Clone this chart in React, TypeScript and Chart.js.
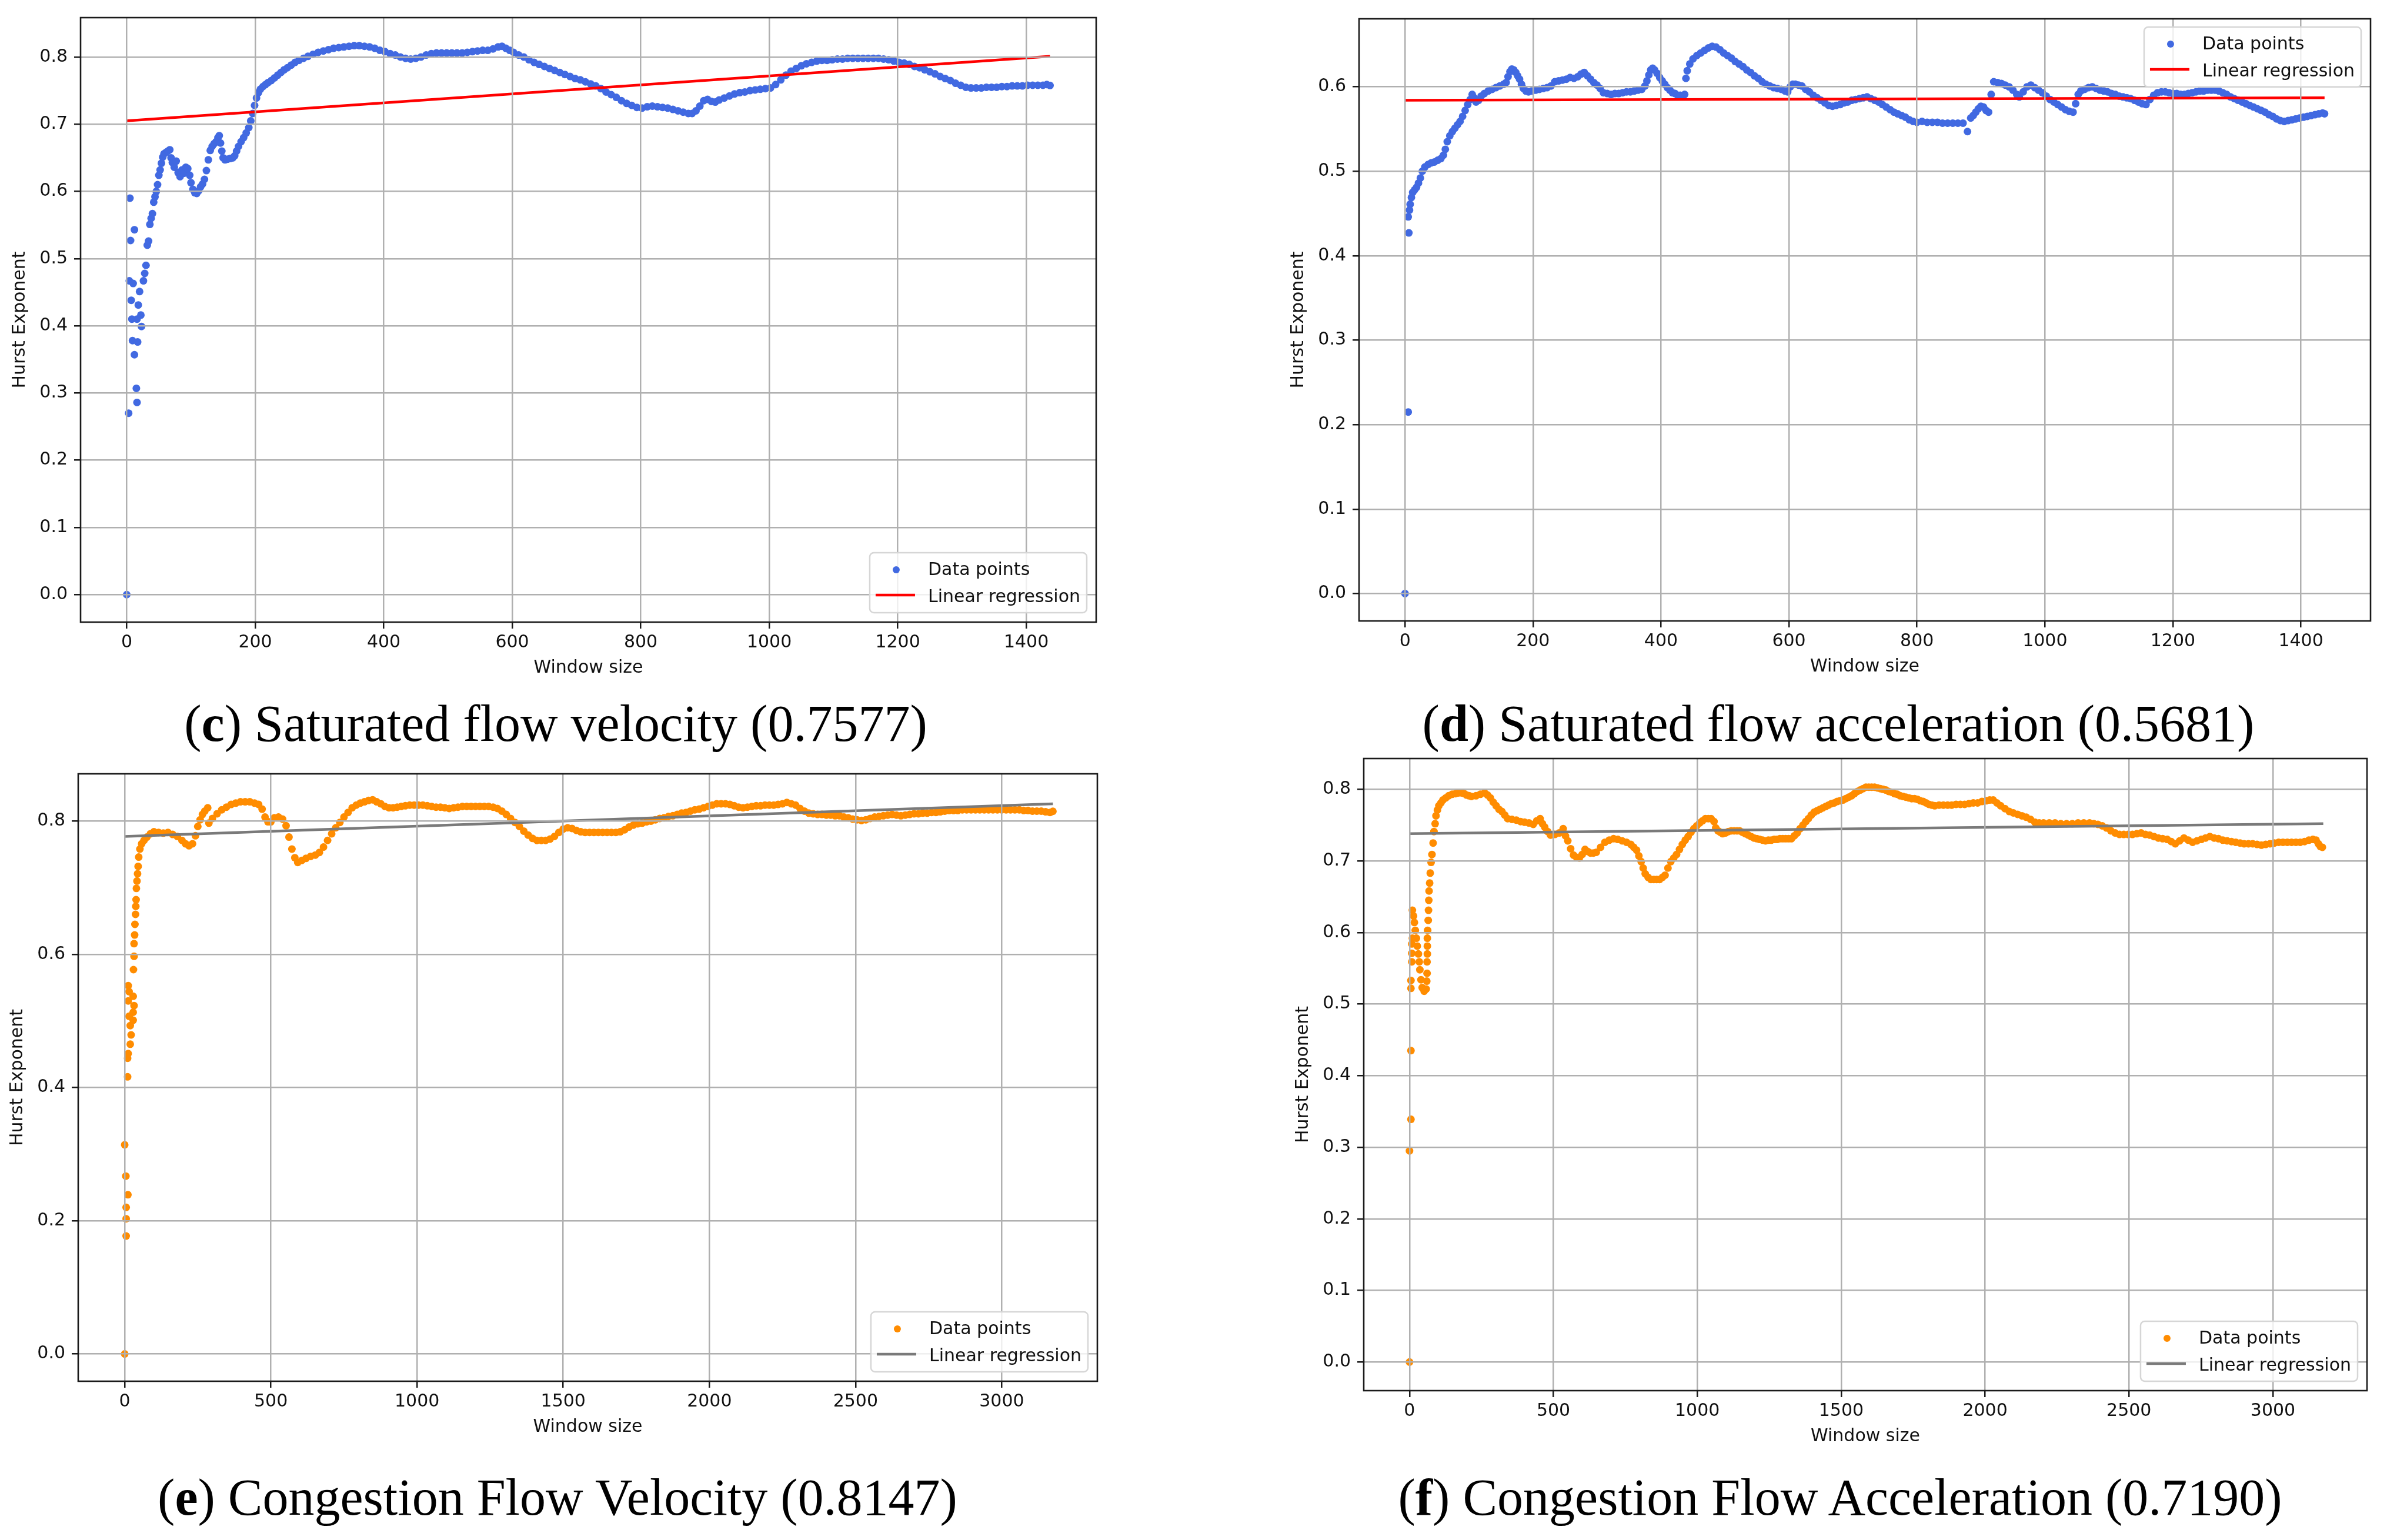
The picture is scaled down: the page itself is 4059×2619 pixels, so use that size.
import { useEffect, useRef } from "react";
import { Chart, registerables } from "chart.js";

Chart.register(...registerables);

type Pt = [number, number];

// (c) saturated flow velocity: [window size, Hurst exponent]
const satVelocity: Pt[] = [
  [0, 0.0], [3, 0.27], [4, 0.467], [5, 0.59], [6, 0.527], [7, 0.438], [8, 0.41], [9, 0.378], [10, 0.463],
  [12, 0.543], [12, 0.357], [15, 0.307], [16, 0.286], [16, 0.41], [17, 0.376], [18, 0.431], [20, 0.451],
  [22, 0.416], [23, 0.399], [26, 0.467], [28, 0.478], [30, 0.49], [32, 0.52], [34, 0.526], [36, 0.551],
  [38, 0.56], [40, 0.567], [42, 0.584], [44, 0.592], [46, 0.6], [48, 0.61], [50, 0.624], [52, 0.632],
  [54, 0.642], [56, 0.651], [58, 0.656], [61, 0.658], [64, 0.66], [67, 0.662], [69, 0.65], [71, 0.643],
  [74, 0.636], [77, 0.645], [80, 0.628], [83, 0.622], [86, 0.632], [89, 0.627], [92, 0.636], [95, 0.634],
  [98, 0.624], [100, 0.613], [103, 0.603], [106, 0.598], [109, 0.597], [112, 0.601], [115, 0.607],
  [118, 0.611], [121, 0.618], [124, 0.631], [127, 0.647], [130, 0.661], [133, 0.667], [136, 0.671],
  [139, 0.674], [142, 0.68], [144, 0.683], [146, 0.672], [148, 0.66], [150, 0.65], [153, 0.647],
  [157, 0.648], [161, 0.649], [165, 0.65], [168, 0.653], [171, 0.66], [174, 0.667], [178, 0.674],
  [182, 0.68], [186, 0.687], [190, 0.695], [193, 0.705], [196, 0.716], [199, 0.728], [202, 0.739],
  [205, 0.747], [208, 0.752], [212, 0.756], [216, 0.759], [220, 0.762], [225, 0.765], [230, 0.769],
  [235, 0.773], [240, 0.777], [245, 0.781], [250, 0.784], [256, 0.788], [262, 0.792], [268, 0.795],
  [275, 0.798], [282, 0.801], [290, 0.804], [298, 0.807], [306, 0.809], [314, 0.811], [322, 0.813],
  [330, 0.814], [338, 0.815], [346, 0.816], [354, 0.817], [362, 0.817], [370, 0.816], [378, 0.815],
  [386, 0.813], [394, 0.81], [402, 0.808], [410, 0.805], [418, 0.803], [426, 0.8], [434, 0.798],
  [442, 0.797], [450, 0.798], [458, 0.8], [466, 0.803], [474, 0.805], [482, 0.806], [490, 0.806],
  [498, 0.806], [506, 0.806], [514, 0.806], [522, 0.806], [530, 0.807], [538, 0.808], [546, 0.809],
  [554, 0.81], [562, 0.81], [570, 0.812], [578, 0.815], [584, 0.816], [590, 0.813], [596, 0.81],
  [602, 0.807], [610, 0.803], [618, 0.8], [626, 0.796], [634, 0.792], [642, 0.789], [650, 0.786],
  [658, 0.783], [666, 0.78], [674, 0.777], [682, 0.774], [690, 0.771], [698, 0.768], [706, 0.766],
  [714, 0.763], [722, 0.76], [730, 0.757], [738, 0.753], [746, 0.748], [754, 0.744], [762, 0.74],
  [770, 0.735], [778, 0.731], [786, 0.728], [794, 0.725], [802, 0.724], [810, 0.726], [818, 0.727],
  [826, 0.726], [834, 0.725], [842, 0.724], [850, 0.722], [858, 0.72], [866, 0.718], [874, 0.716],
  [880, 0.716], [886, 0.72], [892, 0.727], [898, 0.735], [904, 0.737], [910, 0.734], [916, 0.733],
  [922, 0.736], [930, 0.739], [938, 0.742], [946, 0.745], [954, 0.747], [962, 0.748], [970, 0.75],
  [978, 0.751], [986, 0.752], [994, 0.753], [1002, 0.754], [1010, 0.759], [1018, 0.766], [1026, 0.773],
  [1034, 0.779], [1042, 0.783], [1050, 0.787], [1058, 0.79], [1066, 0.792], [1074, 0.794], [1082, 0.795],
  [1090, 0.795], [1098, 0.796], [1106, 0.797], [1114, 0.797], [1122, 0.798], [1130, 0.798], [1138, 0.798],
  [1146, 0.798], [1154, 0.798], [1162, 0.798], [1170, 0.798], [1178, 0.797], [1186, 0.796], [1194, 0.794],
  [1202, 0.792], [1210, 0.791], [1218, 0.789], [1226, 0.786], [1234, 0.784], [1242, 0.781], [1250, 0.778],
  [1258, 0.775], [1266, 0.771], [1274, 0.768], [1282, 0.765], [1290, 0.761], [1298, 0.758], [1306, 0.755],
  [1314, 0.754], [1322, 0.754], [1330, 0.754], [1338, 0.755], [1346, 0.755], [1354, 0.755], [1362, 0.756],
  [1370, 0.756], [1378, 0.757], [1386, 0.757], [1394, 0.757], [1402, 0.758], [1410, 0.758], [1418, 0.758],
  [1426, 0.758], [1432, 0.759], [1437, 0.7577],
];
const satVelocityFit: Pt[] = [[0, 0.705], [1437, 0.801]];

// (d) saturated flow acceleration
const satAccel: Pt[] = [
  [0, 0.0], [5, 0.215], [6, 0.427], [5, 0.446], [7, 0.454], [8, 0.461], [10, 0.469], [12, 0.475],
  [15, 0.478], [18, 0.481], [21, 0.486], [24, 0.492], [27, 0.5], [31, 0.505], [36, 0.508], [41, 0.51],
  [46, 0.511], [51, 0.513], [56, 0.515], [60, 0.519], [63, 0.526], [66, 0.535], [70, 0.542], [74, 0.547],
  [78, 0.551], [82, 0.555], [86, 0.559], [90, 0.565], [94, 0.572], [98, 0.579], [102, 0.585], [105, 0.591],
  [108, 0.587], [111, 0.582], [115, 0.584], [119, 0.589], [124, 0.592], [130, 0.595], [136, 0.597],
  [142, 0.599], [148, 0.601], [154, 0.603], [158, 0.605], [161, 0.612], [164, 0.618], [167, 0.621],
  [170, 0.62], [173, 0.617], [176, 0.613], [179, 0.609], [182, 0.603], [185, 0.598], [189, 0.595],
  [193, 0.594], [198, 0.595], [204, 0.596], [210, 0.597], [216, 0.598], [222, 0.599], [228, 0.601],
  [234, 0.606], [240, 0.607], [246, 0.608], [252, 0.609], [258, 0.611], [264, 0.61], [270, 0.612],
  [275, 0.615], [280, 0.617], [285, 0.613], [290, 0.609], [295, 0.605], [300, 0.602], [305, 0.598],
  [310, 0.593], [316, 0.592], [322, 0.591], [328, 0.592], [334, 0.592], [340, 0.593], [346, 0.594],
  [352, 0.594], [358, 0.595], [364, 0.596], [370, 0.597], [375, 0.601], [378, 0.607], [381, 0.614],
  [384, 0.62], [387, 0.622], [390, 0.62], [394, 0.616], [398, 0.611], [402, 0.607], [406, 0.603],
  [410, 0.599], [414, 0.596], [418, 0.593], [422, 0.592], [426, 0.59], [430, 0.59], [434, 0.589],
  [437, 0.591], [439, 0.61], [441, 0.619], [445, 0.627], [450, 0.633], [456, 0.637], [462, 0.64],
  [468, 0.643], [474, 0.646], [480, 0.648], [486, 0.647], [492, 0.644], [498, 0.64], [504, 0.637],
  [510, 0.634], [516, 0.63], [522, 0.627], [528, 0.624], [534, 0.62], [540, 0.617], [546, 0.613],
  [552, 0.61], [558, 0.606], [564, 0.603], [570, 0.601], [576, 0.599], [582, 0.598], [588, 0.597],
  [594, 0.595], [598, 0.594], [602, 0.6], [606, 0.603], [610, 0.603], [615, 0.602], [620, 0.601],
  [626, 0.597], [632, 0.594], [638, 0.59], [644, 0.587], [650, 0.584], [656, 0.581], [662, 0.578],
  [668, 0.577], [674, 0.578], [680, 0.579], [686, 0.581], [692, 0.582], [698, 0.584], [704, 0.585],
  [710, 0.586], [716, 0.587], [722, 0.588], [728, 0.586], [734, 0.584], [740, 0.582], [746, 0.579],
  [752, 0.576], [758, 0.573], [764, 0.57], [770, 0.568], [776, 0.566], [782, 0.564], [788, 0.561],
  [794, 0.559], [800, 0.558], [808, 0.559], [816, 0.558], [824, 0.558], [832, 0.558], [840, 0.557],
  [848, 0.557], [856, 0.557], [864, 0.557], [872, 0.557], [879, 0.547], [884, 0.563], [888, 0.566],
  [892, 0.57], [896, 0.574], [900, 0.577], [904, 0.576], [908, 0.572], [912, 0.57], [916, 0.591],
  [920, 0.606], [926, 0.605], [932, 0.604], [938, 0.602], [944, 0.6], [950, 0.596], [956, 0.591],
  [960, 0.588], [966, 0.594], [972, 0.6], [978, 0.602], [984, 0.599], [990, 0.596], [996, 0.593],
  [1002, 0.589], [1008, 0.585], [1014, 0.582], [1020, 0.579], [1026, 0.576], [1032, 0.573], [1038, 0.571],
  [1044, 0.57], [1048, 0.58], [1052, 0.591], [1056, 0.595], [1062, 0.597], [1068, 0.599], [1074, 0.6],
  [1080, 0.598], [1086, 0.596], [1092, 0.595], [1098, 0.594], [1104, 0.592], [1110, 0.591], [1116, 0.589],
  [1122, 0.588], [1128, 0.587], [1134, 0.586], [1140, 0.584], [1146, 0.582], [1152, 0.58], [1158, 0.579],
  [1164, 0.585], [1170, 0.59], [1176, 0.593], [1182, 0.594], [1188, 0.594], [1194, 0.593], [1200, 0.592],
  [1206, 0.592], [1212, 0.591], [1218, 0.591], [1224, 0.592], [1230, 0.593], [1236, 0.594], [1242, 0.595],
  [1248, 0.595], [1254, 0.596], [1260, 0.596], [1266, 0.596], [1272, 0.595], [1278, 0.593], [1284, 0.591],
  [1290, 0.588], [1296, 0.586], [1302, 0.584], [1308, 0.582], [1314, 0.58], [1320, 0.578], [1326, 0.576],
  [1332, 0.574], [1338, 0.572], [1344, 0.57], [1350, 0.567], [1356, 0.565], [1362, 0.562], [1368, 0.56],
  [1374, 0.559], [1380, 0.56], [1386, 0.561], [1392, 0.562], [1398, 0.563], [1404, 0.564], [1410, 0.565],
  [1416, 0.566], [1422, 0.567], [1428, 0.568], [1434, 0.569], [1437, 0.5681],
];
const satAccelFit: Pt[] = [[0, 0.584], [1437, 0.587]];

// (e) congestion flow velocity
const congVelocity: Pt[] = [
  [0, 0.0], [0, 0.314], [4, 0.267], [11, 0.239], [5, 0.22], [5, 0.203], [5, 0.177], [10, 0.416],
  [10, 0.444], [12, 0.451], [19, 0.465], [22, 0.479], [19, 0.493], [29, 0.501], [15, 0.507], [29, 0.513],
  [32, 0.523], [12, 0.53], [29, 0.537], [15, 0.544], [12, 0.553], [30, 0.577], [32, 0.597], [32, 0.616],
  [34, 0.629], [35, 0.645], [37, 0.66], [38, 0.672], [39, 0.682], [40, 0.699], [42, 0.71], [44, 0.721],
  [46, 0.732], [48, 0.746], [52, 0.758], [58, 0.766], [66, 0.771], [76, 0.776], [88, 0.781], [100, 0.784],
  [116, 0.783], [132, 0.782], [148, 0.783], [164, 0.78], [180, 0.777], [196, 0.771], [208, 0.766],
  [220, 0.763], [232, 0.766], [242, 0.778], [250, 0.792], [258, 0.802], [266, 0.81], [274, 0.815],
  [284, 0.82], [288, 0.797], [300, 0.804], [316, 0.811], [332, 0.817], [348, 0.821], [364, 0.825],
  [380, 0.827], [396, 0.829], [412, 0.829], [428, 0.829], [444, 0.827], [458, 0.825], [470, 0.818],
  [480, 0.806], [490, 0.799], [500, 0.799], [512, 0.805], [526, 0.806], [540, 0.803], [552, 0.793],
  [562, 0.776], [572, 0.758], [582, 0.745], [592, 0.738], [606, 0.741], [620, 0.744], [636, 0.747],
  [652, 0.749], [666, 0.753], [680, 0.761], [694, 0.771], [708, 0.781], [722, 0.79], [736, 0.798],
  [750, 0.806], [764, 0.813], [778, 0.82], [792, 0.824], [806, 0.827], [820, 0.829], [834, 0.831],
  [848, 0.832], [862, 0.829], [876, 0.826], [890, 0.822], [904, 0.82], [918, 0.82], [932, 0.821],
  [946, 0.822], [960, 0.823], [975, 0.824], [990, 0.824], [1005, 0.824], [1020, 0.824], [1035, 0.823],
  [1050, 0.822], [1065, 0.821], [1080, 0.821], [1095, 0.82], [1110, 0.819], [1125, 0.82], [1140, 0.821],
  [1155, 0.822], [1170, 0.822], [1185, 0.822], [1200, 0.822], [1215, 0.822], [1230, 0.822], [1245, 0.822],
  [1260, 0.821], [1275, 0.819], [1290, 0.815], [1305, 0.81], [1320, 0.804], [1335, 0.798], [1350, 0.792],
  [1365, 0.785], [1380, 0.779], [1395, 0.774], [1410, 0.771], [1425, 0.771], [1440, 0.771], [1455, 0.773],
  [1470, 0.777], [1485, 0.783], [1500, 0.788], [1515, 0.79], [1530, 0.789], [1545, 0.786], [1560, 0.784],
  [1575, 0.783], [1590, 0.783], [1605, 0.783], [1620, 0.783], [1635, 0.783], [1650, 0.783], [1665, 0.783],
  [1680, 0.783], [1695, 0.784], [1710, 0.787], [1725, 0.791], [1740, 0.794], [1755, 0.796], [1770, 0.797],
  [1785, 0.799], [1800, 0.8], [1815, 0.802], [1830, 0.804], [1845, 0.805], [1860, 0.807], [1875, 0.808],
  [1890, 0.81], [1905, 0.812], [1920, 0.813], [1935, 0.815], [1950, 0.817], [1965, 0.818], [1980, 0.82],
  [1995, 0.822], [2010, 0.824], [2025, 0.826], [2040, 0.826], [2055, 0.826], [2070, 0.825], [2085, 0.823],
  [2100, 0.821], [2115, 0.82], [2130, 0.821], [2145, 0.822], [2160, 0.823], [2175, 0.823], [2190, 0.824],
  [2205, 0.824], [2220, 0.824], [2235, 0.825], [2250, 0.826], [2265, 0.828], [2280, 0.826], [2295, 0.824],
  [2310, 0.819], [2325, 0.815], [2340, 0.812], [2355, 0.811], [2370, 0.81], [2385, 0.81], [2400, 0.809],
  [2415, 0.809], [2430, 0.808], [2445, 0.808], [2460, 0.806], [2475, 0.805], [2490, 0.803], [2505, 0.802],
  [2520, 0.801], [2535, 0.802], [2550, 0.804], [2565, 0.806], [2580, 0.807], [2595, 0.808], [2610, 0.809],
  [2625, 0.81], [2640, 0.809], [2655, 0.808], [2670, 0.809], [2685, 0.81], [2700, 0.811], [2715, 0.811],
  [2730, 0.812], [2745, 0.812], [2760, 0.813], [2775, 0.813], [2790, 0.814], [2805, 0.815], [2820, 0.816],
  [2835, 0.816], [2850, 0.816], [2865, 0.817], [2880, 0.817], [2895, 0.817], [2910, 0.817], [2925, 0.817],
  [2940, 0.817], [2955, 0.817], [2970, 0.817], [2985, 0.817], [3000, 0.817], [3015, 0.817], [3030, 0.817],
  [3045, 0.817], [3060, 0.817], [3075, 0.816], [3090, 0.816], [3105, 0.815], [3120, 0.815], [3135, 0.815],
  [3150, 0.814], [3165, 0.813], [3175, 0.8147],
];
const congVelocityFit: Pt[] = [[0, 0.777], [3175, 0.826]];

// (f) congestion flow acceleration
const congAccel: Pt[] = [
  [0, 0.0], [0, 0.295], [5, 0.339], [5, 0.435], [5, 0.522], [5, 0.533], [8, 0.559], [8, 0.571], [8, 0.584],
  [10, 0.592], [10, 0.631], [14, 0.623], [17, 0.614], [20, 0.603], [24, 0.592], [27, 0.581], [31, 0.57],
  [34, 0.559], [36, 0.548], [40, 0.534], [44, 0.523], [51, 0.518], [58, 0.521], [60, 0.532], [61, 0.543],
  [61, 0.559], [62, 0.57], [62, 0.581], [62, 0.592], [63, 0.603], [65, 0.617], [66, 0.631], [67, 0.645],
  [68, 0.658], [70, 0.669], [72, 0.683], [75, 0.698], [78, 0.709], [82, 0.725], [85, 0.741], [89, 0.752],
  [92, 0.763], [97, 0.771], [102, 0.777], [109, 0.781], [116, 0.785], [126, 0.788], [136, 0.791],
  [148, 0.793], [160, 0.794], [170, 0.795], [181, 0.795], [190, 0.794], [198, 0.792], [207, 0.791],
  [215, 0.79], [231, 0.791], [246, 0.793], [261, 0.795], [271, 0.792], [281, 0.788], [291, 0.782],
  [301, 0.777], [311, 0.772], [321, 0.769], [331, 0.764], [341, 0.759], [356, 0.758], [371, 0.757],
  [386, 0.755], [400, 0.754], [415, 0.753], [430, 0.751], [442, 0.756], [454, 0.759], [462, 0.752],
  [470, 0.747], [480, 0.741], [490, 0.736], [505, 0.737], [520, 0.739], [534, 0.745], [542, 0.735],
  [550, 0.728], [560, 0.717], [570, 0.708], [580, 0.705], [590, 0.704], [600, 0.709], [610, 0.716],
  [620, 0.713], [629, 0.711], [639, 0.711], [649, 0.712], [664, 0.719], [679, 0.726], [694, 0.729],
  [709, 0.731], [724, 0.73], [739, 0.728], [754, 0.726], [769, 0.723], [779, 0.719], [789, 0.715],
  [797, 0.707], [805, 0.699], [812, 0.69], [819, 0.682], [829, 0.677], [839, 0.674], [849, 0.674],
  [859, 0.674], [869, 0.674], [879, 0.677], [888, 0.68], [898, 0.69], [908, 0.699], [918, 0.704],
  [928, 0.709], [938, 0.716], [948, 0.723], [958, 0.729], [968, 0.734], [978, 0.74], [988, 0.745],
  [998, 0.749], [1008, 0.753], [1018, 0.756], [1028, 0.759], [1038, 0.759], [1048, 0.759], [1058, 0.755],
  [1064, 0.746], [1072, 0.742], [1080, 0.74], [1088, 0.738], [1098, 0.739], [1108, 0.741], [1118, 0.742],
  [1128, 0.742], [1138, 0.742], [1147, 0.742], [1157, 0.74], [1167, 0.738], [1177, 0.736], [1187, 0.734],
  [1197, 0.732], [1207, 0.731], [1217, 0.73], [1227, 0.729], [1237, 0.728], [1247, 0.729], [1257, 0.729],
  [1267, 0.73], [1277, 0.73], [1287, 0.731], [1297, 0.731], [1307, 0.731], [1317, 0.731], [1327, 0.731],
  [1337, 0.735], [1347, 0.739], [1357, 0.745], [1367, 0.75], [1377, 0.755], [1386, 0.759], [1396, 0.764],
  [1406, 0.768], [1416, 0.77], [1426, 0.772], [1436, 0.774], [1446, 0.776], [1456, 0.778], [1466, 0.78],
  [1476, 0.781], [1486, 0.783], [1496, 0.784], [1506, 0.785], [1516, 0.787], [1526, 0.789], [1536, 0.791],
  [1546, 0.794], [1556, 0.797], [1566, 0.799], [1576, 0.801], [1586, 0.803], [1596, 0.803], [1606, 0.803],
  [1616, 0.803], [1626, 0.802], [1636, 0.801], [1645, 0.8], [1655, 0.799], [1665, 0.797], [1675, 0.796],
  [1685, 0.794], [1695, 0.793], [1705, 0.791], [1715, 0.79], [1725, 0.789], [1735, 0.788], [1745, 0.787],
  [1755, 0.787], [1765, 0.786], [1775, 0.784], [1785, 0.783], [1795, 0.781], [1805, 0.779], [1815, 0.778],
  [1825, 0.777], [1840, 0.778], [1855, 0.778], [1870, 0.778], [1884, 0.778], [1899, 0.779], [1914, 0.779],
  [1929, 0.779], [1944, 0.78], [1959, 0.781], [1974, 0.781], [1989, 0.783], [2004, 0.784], [2016, 0.785],
  [2028, 0.785], [2041, 0.781], [2054, 0.777], [2069, 0.773], [2084, 0.769], [2098, 0.767], [2113, 0.765],
  [2128, 0.763], [2143, 0.761], [2158, 0.758], [2173, 0.754], [2188, 0.753], [2203, 0.753], [2223, 0.753],
  [2243, 0.753], [2263, 0.752], [2283, 0.752], [2303, 0.752], [2323, 0.753], [2343, 0.753], [2363, 0.753],
  [2378, 0.752], [2392, 0.751], [2407, 0.749], [2422, 0.746], [2437, 0.742], [2452, 0.739], [2467, 0.737],
  [2482, 0.737], [2497, 0.737], [2512, 0.737], [2527, 0.738], [2542, 0.739], [2557, 0.737], [2572, 0.736],
  [2587, 0.734], [2602, 0.732], [2617, 0.731], [2633, 0.73], [2647, 0.727], [2661, 0.724], [2676, 0.728],
  [2691, 0.732], [2706, 0.729], [2721, 0.726], [2736, 0.728], [2751, 0.73], [2766, 0.732], [2781, 0.734],
  [2796, 0.732], [2811, 0.731], [2826, 0.729], [2841, 0.728], [2856, 0.727], [2871, 0.726], [2886, 0.725],
  [2900, 0.724], [2915, 0.724], [2930, 0.724], [2945, 0.723], [2960, 0.722], [2975, 0.723], [2990, 0.724],
  [3005, 0.725], [3020, 0.726], [3035, 0.726], [3050, 0.726], [3065, 0.726], [3080, 0.726], [3095, 0.726],
  [3110, 0.727], [3125, 0.729], [3139, 0.73], [3150, 0.729], [3158, 0.724], [3165, 0.72], [3172, 0.719],
];
const congAccelFit: Pt[] = [[0, 0.738], [3175, 0.752]];

// tick values
const satTicksX = [0, 200, 400, 600, 800, 1000, 1200, 1400];
const congTicksX = [0, 500, 1000, 1500, 2000, 2500, 3000];
const satVelTicksY = [0, 0.1, 0.2, 0.3, 0.4, 0.5, 0.6, 0.7, 0.8];
const satAccTicksY = [0, 0.1, 0.2, 0.3, 0.4, 0.5, 0.6];
const congVelTicksY = [0, 0.2, 0.4, 0.6, 0.8];
const congAccTicksY = [0, 0.1, 0.2, 0.3, 0.4, 0.5, 0.6, 0.7, 0.8];

const BLUE = "#4169e1";
const ORANGE = "#ff8c00";
const TICK_FONT = { family: "'DejaVu Sans', sans-serif", size: 30 };

// draws the axes frame (all four spines) and a matplotlib-style legend inside the plot
const frameLegend = {
  id: "frameLegend",
  afterDraw(chart: any, _args: any, opts: any) {
    const { ctx, chartArea: a } = chart;
    ctx.save();
    ctx.strokeStyle = "#1a1a1a";
    ctx.lineWidth = 2.6;
    ctx.strokeRect(a.left, a.top, a.right - a.left, a.bottom - a.top);

    const sets = chart.data.datasets;
    const pts = sets.find((d: any) => !d.showLine);
    const fit = sets.find((d: any) => d.showLine);
    ctx.font = "30px 'DejaVu Sans'";
    const tw = Math.max(ctx.measureText(pts.label).width, ctx.measureText(fit.label).width);
    const w = tw + 110;
    const h = 102;
    const x = a.right - 16 - w;
    const y = opts.corner === "top" ? a.top + 14 : a.bottom - 16 - h;
    ctx.beginPath();
    ctx.roundRect(x, y, w, h, 7);
    ctx.fillStyle = "rgba(255,255,255,0.8)";
    ctx.fill();
    ctx.strokeStyle = "#d6d6d6";
    ctx.lineWidth = 2.5;
    ctx.stroke();

    ctx.fillStyle = pts.backgroundColor;
    ctx.beginPath();
    ctx.arc(x + 45, y + 29, 6, 0, Math.PI * 2);
    ctx.fill();
    ctx.strokeStyle = fit.borderColor;
    ctx.lineWidth = 4.5;
    ctx.beginPath();
    ctx.moveTo(x + 10, y + 72);
    ctx.lineTo(x + 77, y + 72);
    ctx.stroke();

    ctx.fillStyle = "#111";
    ctx.textAlign = "left";
    ctx.textBaseline = "alphabetic";
    ctx.fillText(pts.label, x + 99, y + 38);
    ctx.fillText(fit.label, x + 99, y + 84);
    ctx.restore();
  },
};

interface PanelProps {
  points: Pt[];
  fit: Pt[];
  color: string;
  fitColor: string;
  area: { left: number; top: number; right: number; bottom: number };
  xRange: [number, number];
  yRange: [number, number];
  xTicks: number[];
  yTicks: number[];
  corner: "top" | "bottom";
}

const PAD_L = 140;
const PAD_T = 40;
const PAD_R = 30;
const PAD_B = 100;

function Panel({ points, fit, color, fitColor, area, xRange, yRange, xTicks, yTicks, corner }: PanelProps) {
  const canvasRef = useRef<HTMLCanvasElement>(null);
  const width = area.right - area.left + PAD_L + PAD_R;
  const height = area.bottom - area.top + PAD_T + PAD_B;

  useEffect(() => {
    if (!canvasRef.current) return;
    const grid = { color: "#b0b0b0", lineWidth: 2.5, tickLength: 11, tickColor: "#1a1a1a", tickWidth: 2.5, z: 1 };
    const chart = new Chart(canvasRef.current, {
      type: "scatter",
      data: {
        datasets: [
          {
            label: "Linear regression",
            data: fit.map(([x, y]) => ({ x, y })),
            showLine: true,
            borderColor: fitColor,
            borderWidth: 4.5,
            pointRadius: 0,
            order: 0,
          },
          {
            label: "Data points",
            data: points.map(([x, y]) => ({ x, y })),
            backgroundColor: color,
            borderWidth: 0,
            pointRadius: 6.5,
            order: 1,
          },
        ],
      },
      options: {
        animation: false,
        responsive: false,
        devicePixelRatio: 1,
        events: [],
        layout: { padding: { left: 0, top: PAD_T, right: PAD_R, bottom: 0 } },
        plugins: {
          legend: { display: false },
          tooltip: { enabled: false },
          frameLegend: { corner },
        } as any,
        scales: {
          x: {
            type: "linear",
            min: xRange[0],
            max: xRange[1],
            border: { display: false },
            grid,
            afterBuildTicks: (s: any) => {
              s.ticks = xTicks.map((value) => ({ value }));
            },
            ticks: {
              autoSkip: false,
              maxRotation: 0,
              padding: 6,
              color: "#111",
              font: TICK_FONT,
              callback: (v: any) => String(Math.round(Number(v))),
            },
            title: { display: true, text: "Window size", color: "#111", font: TICK_FONT, padding: { top: 0, bottom: 4 } },
            afterFit: (s: any) => {
              s.height = PAD_B;
            },
          },
          y: {
            type: "linear",
            min: yRange[0],
            max: yRange[1],
            border: { display: false },
            grid,
            afterBuildTicks: (s: any) => {
              s.ticks = yTicks.map((value) => ({ value }));
            },
            ticks: {
              autoSkip: false,
              padding: 11,
              color: "#111",
              font: TICK_FONT,
              callback: (v: any) => Number(v).toFixed(1),
            },
            title: { display: true, text: "Hurst Exponent", color: "#111", font: TICK_FONT, padding: { top: 19, bottom: 0 } },
            afterFit: (s: any) => {
              s.width = PAD_L;
            },
          },
        },
      },
      plugins: [frameLegend],
    });
    return () => chart.destroy();
  }, [points, fit, color, fitColor, xRange, yRange, xTicks, yTicks, corner]);

  return (
    <canvas
      ref={canvasRef}
      width={width}
      height={height}
      style={{
        position: "absolute",
        left: area.left - PAD_L,
        top: area.top - PAD_T,
        width,
        height,
      }}
    />
  );
}

function Caption({ letter, text, cx, cy }: { letter: string; text: string; cx: number; cy: number }) {
  return (
    <div
      style={{
        position: "absolute",
        left: cx - 1000,
        top: cy - 45,
        width: 2000,
        textAlign: "center",
        fontFamily: "'Liberation Serif', serif",
        fontSize: 88,
        lineHeight: "88px",
        color: "#000",
        whiteSpace: "nowrap",
      }}
    >
      (<b>{letter}</b>) {text}
    </div>
  );
}

const SAT_X: [number, number] = [-71.85, 1508.85];
const CONG_X: [number, number] = [-159, 3327];

export default function App() {
  return (
    <div
      style={{
        position: "absolute",
        left: 0,
        top: 0,
        width: 4059,
        height: 2619,
        background: "#fff",
        overflow: "hidden",
      }}
    >
      <Panel
        points={satVelocity}
        fit={satVelocityFit}
        color={BLUE}
        fitColor="#ff0000"
        area={{ left: 137, top: 30, right: 1864, bottom: 1058 }}
        xRange={SAT_X}
        yRange={[-0.0409, 0.8586]}
        xTicks={satTicksX}
        yTicks={satVelTicksY}
        corner="bottom"
      />
      <Panel
        points={satAccel}
        fit={satAccelFit}
        color={BLUE}
        fitColor="#ff0000"
        area={{ left: 2311, top: 32, right: 4031, bottom: 1056 }}
        xRange={SAT_X}
        yRange={[-0.0324, 0.6805]}
        xTicks={satTicksX}
        yTicks={satAccTicksY}
        corner="top"
      />
      <Panel
        points={congVelocity}
        fit={congVelocityFit}
        color={ORANGE}
        fitColor="#7a7a7a"
        area={{ left: 133, top: 1316, right: 1866, bottom: 2349 }}
        xRange={CONG_X}
        yRange={[-0.041, 0.871]}
        xTicks={congTicksX}
        yTicks={congVelTicksY}
        corner="bottom"
      />
      <Panel
        points={congAccel}
        fit={congAccelFit}
        color={ORANGE}
        fitColor="#7a7a7a"
        area={{ left: 2319, top: 1290, right: 4025, bottom: 2365 }}
        xRange={CONG_X}
        yRange={[-0.04, 0.843]}
        xTicks={congTicksX}
        yTicks={congAccTicksY}
        corner="bottom"
      />
      <Caption letter="c" text="Saturated flow velocity (0.7577)" cx={945} cy={1232} />
      <Caption letter="d" text="Saturated flow acceleration (0.5681)" cx={3126} cy={1232} />
      <Caption letter="e" text="Congestion Flow Velocity (0.8147)" cx={948} cy={2548} />
      <Caption letter="f" text="Congestion Flow Acceleration (0.7190)" cx={3129} cy={2548} />
    </div>
  );
}
